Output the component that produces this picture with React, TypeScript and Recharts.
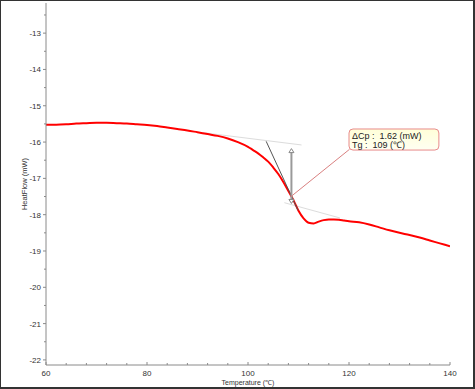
import React from "react";
import {
  LineChart,
  Line,
  XAxis,
  YAxis,
  ReferenceLine,
  ReferenceArea,
} from "recharts";

// DSC trace
const temperature = [
  60, 62, 64, 66, 68, 70, 72, 74, 76, 78, 80, 82, 84, 86, 88, 90, 92, 94, 96, 98,
  100, 101, 102, 103, 104, 105, 106, 107, 108, 109, 110, 111, 112, 113, 114, 115,
  116, 117, 118, 119, 120, 122, 124, 126, 128, 130, 132, 134, 136, 138, 140,
];
const heatFlow = [
  -15.52, -15.52, -15.51, -15.49, -15.48, -15.47, -15.47, -15.48, -15.49, -15.51,
  -15.53, -15.56, -15.6, -15.64, -15.68, -15.73, -15.78, -15.83, -15.9, -16.0,
  -16.13, -16.22, -16.31, -16.42, -16.54, -16.7, -16.88, -17.1, -17.35, -17.6,
  -17.89, -18.1, -18.22, -18.24, -18.19, -18.15, -18.13, -18.13, -18.14, -18.16,
  -18.18, -18.21, -18.27, -18.35, -18.43, -18.5, -18.56, -18.63, -18.71, -18.79,
  -18.87,
];

const xTicks = [60, 64, 68, 72, 76, 80, 84, 88, 92, 96, 100, 104, 108, 112, 116, 120, 124, 128, 132, 136, 140];
const yTicks = [-22, -21.5, -21, -20.5, -20, -19.5, -19, -18.5, -18, -17.5, -17, -16.5, -16, -15.5, -15, -14.5, -14, -13.5, -13, -12.5];

// Tg analysis overlay
const upperBaseline = [{ x: 91, y: -15.74 }, { x: 110.6, y: -16.08 }];
const lowerBaseline = [{ x: 107.2, y: -17.67 }, { x: 118.2, y: -18.09 }];
const tangent = [{ x: 103.6, y: -15.98 }, { x: 109.9, y: -17.88 }];
const stepArrow = [{ x: 108.6, y: -16.18 }, { x: 108.6, y: -17.69 }];
const connector = [{ x: 108.6, y: -17.49 }, { x: 120.1, y: -16.2 }];
const boxX = [120, 137.8];
const boxY = [-16.22, -15.64];
const boxLines = ["ΔCp :\u00a0 1.62 (mW)", "Tg :\u00a0 109 (℃)"];

const data = temperature.map((t, i) => ({ t, hf: heatFlow[i] }));

const FONT = '"Liberation Sans", Arial, sans-serif';
const AXIS = "#8a8a8a";

function XTick(props: any) {
  const { x, y, payload } = props;
  const major = payload.value % 20 === 0;
  return (
    <g>
      <line x1={x} x2={x} y1={y} y2={major ? y - 3 : y - 2} stroke={AXIS} />
      {major && (
        <text x={x} y={y + 11} textAnchor="middle" fontSize={8} fill="#333" fontFamily={FONT}>
          {payload.value}
        </text>
      )}
    </g>
  );
}

function YTick(props: any) {
  const { x, y, payload } = props;
  const major = Number.isInteger(payload.value);
  return (
    <g>
      <line x1={x} x2={major ? x - 3 : x - 2} y1={y} y2={y} stroke={AXIS} />
      {major && (
        <text x={x - 5} y={y + 3} textAnchor="end" fontSize={8} fill="#333" fontFamily={FONT}>
          {payload.value}
        </text>
      )}
    </g>
  );
}

function ArrowShape(p: any) {
  const { x1, y1, x2, y2 } = p;
  const top = Math.min(y1, y2);
  const bot = Math.max(y1, y2);
  return (
    <g>
      <line x1={x1} x2={x2} y1={top + 3} y2={bot - 3} stroke="#9a9a9a" strokeWidth={2} />
      <path
        d={`M${x1},${top} L${x1 - 2.5},${top + 4} L${x1 + 2.5},${top + 4} Z`}
        fill="#fff"
        stroke="#888"
        strokeWidth={1}
      />
      <path
        d={`M${x1},${bot} L${x1 - 2.5},${bot - 4} L${x1 + 2.5},${bot - 4} Z`}
        fill="#fff"
        stroke="#888"
        strokeWidth={1}
      />
    </g>
  );
}

function BoxShape(p: any) {
  const { x, y, width, height } = p;
  return (
    <g>
      <defs>
        <linearGradient id="tgbox" x1="0" y1="0" x2="0" y2="1">
          <stop offset="0%" stopColor="#ffffd8" />
          <stop offset="100%" stopColor="#fffff2" />
        </linearGradient>
      </defs>
      <rect x={x} y={y} width={width} height={height} rx={4} fill="url(#tgbox)" stroke="#e88a8a" strokeWidth={1} />
      {boxLines.map((s, i) => (
        <text key={i} x={x + 3} y={y + 10 + i * 8.7} fontSize={9} fill="#222" fontFamily={FONT}>
          {s}
        </text>
      ))}
    </g>
  );
}

export default function App() {
  return (
    <div style={{ position: "absolute", left: 0, top: 0, width: 475, height: 389, background: "#fff" }}>
      <LineChart
        width={475}
        height={389}
        data={data}
        margin={{ top: 3, right: 25, bottom: 0, left: 0 }}
      >
        <XAxis
          dataKey="t"
          type="number"
          domain={[60, 140]}
          ticks={xTicks}
          interval={0}
          height={24}
          stroke={AXIS}
          tickSize={0}
          tickMargin={0}
          tickLine={false}
          tick={<XTick />}
          allowDataOverflow
          label={{
            content: (lp: any) => {
              const vb = lp.viewBox;
              return (
                <text x={vb.x + vb.width / 2} y={vb.y + 19.5} textAnchor="middle" fontSize={7} fill="#333" fontFamily={FONT}>
                  Temperature (℃)
                </text>
              );
            },
          }}
        />
        <YAxis
          type="number"
          domain={[-22.14, -12.17]}
          ticks={yTicks}
          interval={0}
          width={46}
          stroke={AXIS}
          tickSize={0}
          tickMargin={0}
          tickLine={false}
          tick={<YTick />}
          allowDataOverflow
          label={{
            content: (lp: any) => {
              const vb = lp.viewBox;
              const cx = vb.x + 26.5;
              const cy = vb.y + vb.height / 2;
              return (
                <text x={cx} y={cy} transform={`rotate(-90 ${cx} ${cy})`} textAnchor="middle" fontSize={7.5} fill="#333" fontFamily={FONT}>
                  HeatFlow (mW)
                </text>
              );
            },
          }}
        />
        <ReferenceLine segment={upperBaseline} stroke="#dcdcdc" strokeWidth={1} />
        <ReferenceLine segment={lowerBaseline} stroke="#dcdcdc" strokeWidth={1} />
        <Line
          type="monotone"
          dataKey="hf"
          stroke="#ff0000"
          strokeWidth={2}
          dot={false}
          isAnimationActive={false}
        />
        <ReferenceLine segment={tangent} stroke="#555" strokeWidth={1} />
        <ReferenceLine segment={stepArrow} shape={ArrowShape} />
        <ReferenceLine segment={connector} stroke="#d98080" strokeWidth={1} />
        <ReferenceArea x1={boxX[0]} x2={boxX[1]} y1={boxY[0]} y2={boxY[1]} shape={BoxShape} />
      </LineChart>
      <div
        style={{
          position: "absolute",
          left: 0,
          top: 0,
          width: 475,
          height: 389,
          boxSizing: "border-box",
          borderTop: "1px solid #333",
          borderLeft: "1px solid #333",
          borderRight: "2px solid #333",
          borderBottom: "2px solid #333",
          pointerEvents: "none",
        }}
      />
    </div>
  );
}
